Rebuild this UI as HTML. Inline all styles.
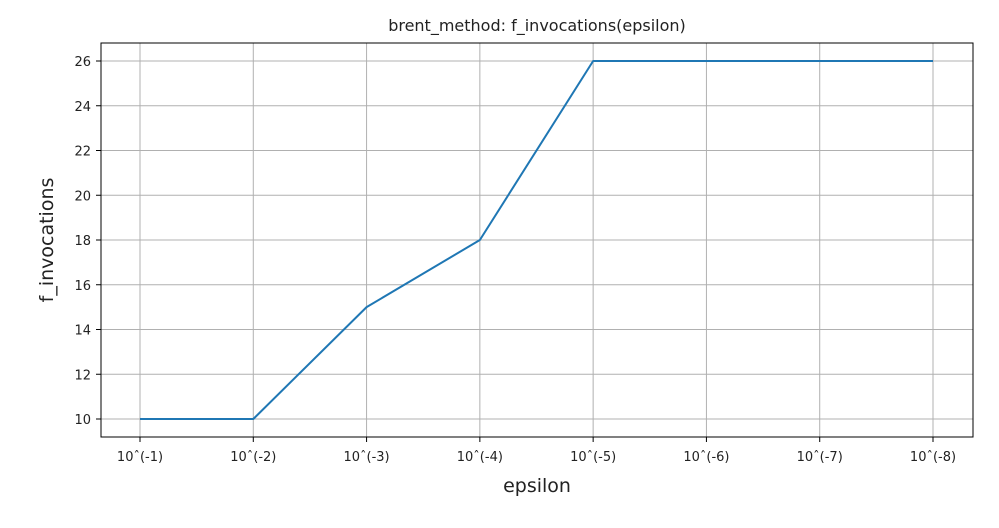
<!DOCTYPE html>
<html><head><meta charset="utf-8"><style>
body{margin:0;background:#fff;}
text{font-family:"DejaVu Sans","Liberation Sans",sans-serif;fill:#222;}
</style></head><body>
<svg id="chart" width="999" height="523" xmlns="http://www.w3.org/2000/svg">
<text x="537" y="31" font-size="16" text-anchor="middle">brent_method: f_invocations(epsilon)</text>
<g id="grid"></g>
<g id="ticks"></g>
<rect x="101" y="43" width="872" height="394" fill="none" stroke="#000" stroke-width="1"/>
<text x="537" y="492" font-size="19" text-anchor="middle">epsilon</text>
<text transform="translate(53,240) rotate(-90)" font-size="19" text-anchor="middle">f_invocations</text>
</svg>
<script>
const categories=["10^(-1)","10^(-2)","10^(-3)","10^(-4)","10^(-5)","10^(-6)","10^(-7)","10^(-8)"];
const values=[10,10,15,18,26,26,26,26];
const yTicks=[10,12,14,16,18,20,22,24,26];
const ns="http://www.w3.org/2000/svg";
const svg=document.getElementById('chart'),grid=document.getElementById('grid'),ticks=document.getElementById('ticks');
const x=i=>140+i*(933-140)/(categories.length-1);
const y=v=>419-(v-10)*(419-61)/16;
function mk(tag,at,parent){const e=document.createElementNS(ns,tag);for(const k in at)e.setAttribute(k,at[k]);parent.appendChild(e);return e;}
categories.forEach((c,i)=>{
 const g=mk('line',{x1:x(i),x2:x(i),y1:43,y2:437,stroke:'#b0b0b0','stroke-width':1},grid);
 
 
 const t=mk('line',{x1:x(i),x2:x(i),y1:437,y2:442,stroke:'#000'},ticks);
 
 
 const l=mk('text',{x:x(i),y:461,'font-size':13,'text-anchor':'middle'},ticks);
 l.textContent=c.replace('^','\u02C6');
 
 
});
yTicks.forEach(v=>{
 const g=mk('line',{x1:101,x2:973,y1:y(v),y2:y(v),stroke:'#b0b0b0','stroke-width':1},grid);
 
 
 const t=mk('line',{x1:96,x2:101,y1:y(v),y2:y(v),stroke:'#000'},ticks);
 
 
 const l=mk('text',{x:91,y:y(v)+5,'font-size':13,'text-anchor':'end'},ticks);
 l.textContent=v;
 
 
});
const p=mk('polyline',{points:values.map((v,i)=>x(i)+','+y(v)).join(' '),fill:'none',stroke:'#1f77b4','stroke-width':2,'stroke-linejoin':'round'},svg);


</script>
</body></html>
